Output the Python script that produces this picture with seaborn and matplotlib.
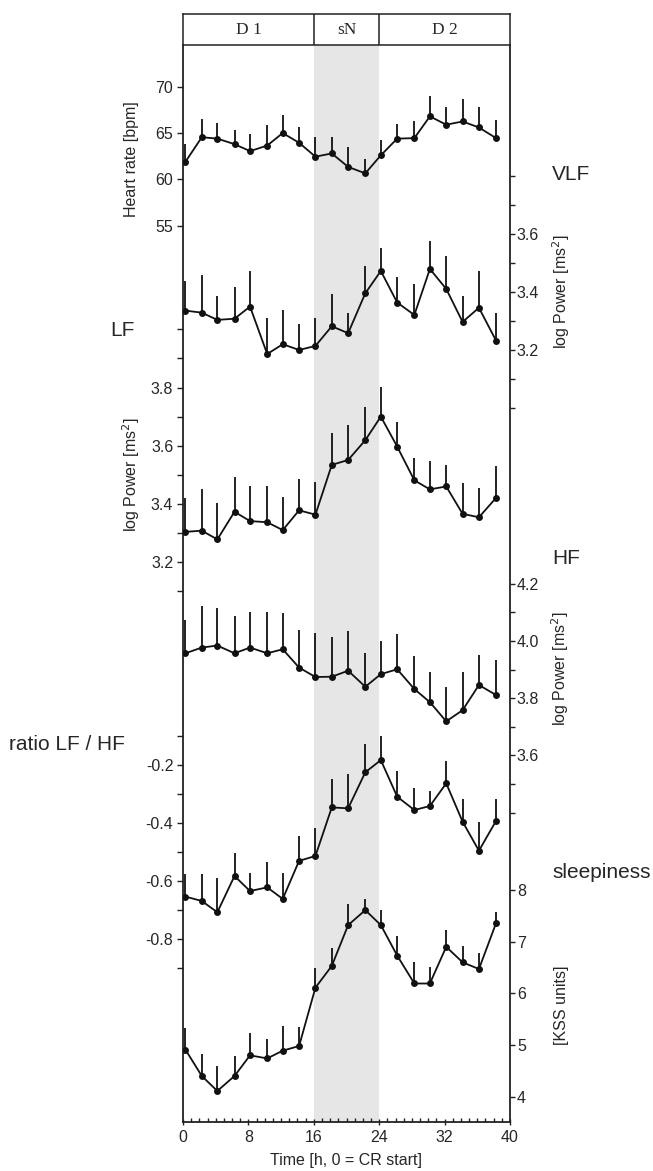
import matplotlib
matplotlib.use('Agg')
import matplotlib.pyplot as plt
import seaborn as sns
import pandas as pd
from matplotlib.ticker import FormatStrFormatter, MultipleLocator

# Data (mean + one-sided SEM), 2-h bins
times = [0.3, 2.3, 4.2, 6.3, 8.2, 10.3, 12.2, 14.2, 16.2, 18.2,
         20.2, 22.3, 24.2, 26.2, 28.3, 30.2, 32.2, 34.2, 36.2, 38.3]

hr = [61.9, 64.55, 64.4, 63.8, 63.05, 63.65, 65.0, 63.95, 62.45, 62.8,
      61.35, 60.65, 62.6, 64.4, 64.45, 66.8, 65.9, 66.25, 65.6, 64.45]
hr_err = [1.97, 1.98, 1.65, 1.58, 1.9, 2.2, 1.94, 1.72, 2.1, 1.75,
          2.15, 1.58, 1.66, 1.61, 1.8, 2.19, 1.89, 2.47, 2.18, 2.01]

vlf = [3.336, 3.329, 3.304, 3.308, 3.35, 3.186, 3.22, 3.20, 3.214, 3.282,
       3.258, 3.396, 3.473, 3.364, 3.321, 3.48, 3.411, 3.297, 3.346, 3.232]
vlf_err = [0.104, 0.130, 0.084, 0.109, 0.122, 0.125, 0.119, 0.089, 0.096, 0.111,
           0.070, 0.095, 0.078, 0.088, 0.106, 0.097, 0.114, 0.091, 0.126, 0.095]

lf = [3.304, 3.308, 3.278, 3.373, 3.341, 3.337, 3.31, 3.378, 3.363, 3.534,
      3.551, 3.619, 3.70, 3.597, 3.481, 3.45, 3.46, 3.366, 3.354, 3.421]
lf_err = [0.117, 0.142, 0.124, 0.118, 0.121, 0.125, 0.114, 0.109, 0.111, 0.109,
          0.12, 0.113, 0.103, 0.086, 0.078, 0.098, 0.074, 0.107, 0.1, 0.109]

hf = [3.957, 3.977, 3.984, 3.957, 3.977, 3.957, 3.971, 3.907, 3.874, 3.875,
      3.896, 3.84, 3.884, 3.901, 3.832, 3.786, 3.719, 3.758, 3.846, 3.811]
hf_err = [0.116, 0.147, 0.131, 0.131, 0.126, 0.145, 0.128, 0.132, 0.153, 0.14,
          0.14, 0.119, 0.116, 0.122, 0.115, 0.105, 0.119, 0.133, 0.105, 0.122]

ratio = [-0.653, -0.668, -0.707, -0.582, -0.634, -0.621, -0.661, -0.53, -0.513, -0.346,
         -0.349, -0.225, -0.183, -0.309, -0.355, -0.341, -0.263, -0.395, -0.495, -0.392]
ratio_err = [0.077, 0.093, 0.117, 0.078, 0.064, 0.086, 0.091, 0.087, 0.095, 0.097,
             0.118, 0.097, 0.083, 0.088, 0.077, 0.053, 0.077, 0.077, 0.1, 0.075]

kss = [4.91, 4.40, 4.11, 4.40, 4.80, 4.74, 4.89, 4.98, 6.11, 6.53,
       7.32, 7.61, 7.32, 6.73, 6.19, 6.19, 6.90, 6.60, 6.47, 7.36]
kss_err = [0.41, 0.43, 0.49, 0.39, 0.44, 0.37, 0.48, 0.37, 0.38, 0.34,
           0.40, 0.21, 0.29, 0.37, 0.41, 0.31, 0.32, 0.32, 0.31, 0.22]

# tick values per panel
hr_ticks = [55, 60, 65, 70]
vlf_ticks = [3.2, 3.4, 3.6]
vlf_minor = [3.0, 3.1, 3.3, 3.5, 3.7, 3.8]
lf_ticks = [3.2, 3.4, 3.6, 3.8]
lf_minor = [3.1, 3.3, 3.5, 3.7, 3.9, 4.0]
hf_ticks = [3.6, 3.8, 4.0, 4.2]
hf_minor = [3.4, 3.5, 3.7, 3.9, 4.1]
ratio_ticks = [-0.8, -0.6, -0.4, -0.2]
ratio_minor = [-0.9, -0.7, -0.5, -0.3, -0.1]
kss_ticks = [4, 5, 6, 7, 8]
x_ticks = [0, 8, 16, 24, 32, 40]

phases = ['D 1', 'sN', 'D 2']
phase_edges = [0, 16, 24, 40]

sns.set_style('ticks')
plt.rcParams['font.family'] = ['Liberation Sans', 'DejaVu Sans']
plt.rcParams['axes.unicode_minus'] = False

W, H = 653, 1171
fig = plt.figure(figsize=(W / 100, H / 100), dpi=100)

# main frame in pixel terms
L, R, B, T = 183, 510, 1122, 45
main = fig.add_axes([L / W, 1 - B / H, (R - L) / W, (B - T) / H])
main.set_xlim(0, 40)
main.set_ylim(0, 1)
main.axvspan(phase_edges[1], phase_edges[2], color='#e6e6e6', lw=0, zorder=0)
for s in ['left', 'right', 'bottom']:
    main.spines[s].set_linewidth(1.3)
    main.spines[s].set_color('#222222')
main.spines['top'].set_visible(False)
main.set_xticks(x_ticks)
main.xaxis.set_minor_locator(MultipleLocator(1))
main.tick_params(axis='x', which='major', direction='inout', length=5, width=1,
                 labelsize=11.5, pad=3, color='#222222')
main.tick_params(axis='x', which='minor', direction='in', length=3, width=1,
                 color='#222222')
main.set_xlabel('Time [h, 0 = CR start]', fontsize=11.5, labelpad=6)

# header boxes
head = fig.add_axes([L / W, 1 - T / H, (R - L) / W, 31 / H])
head.set_xlim(0, 40)
head.set_ylim(0, 1)
head.set_xticks([])
head.set_yticks([])
for s in head.spines.values():
    s.set_linewidth(1.1)
    s.set_color('#222222')
for xe in phase_edges[1:-1]:
    head.axvline(xe, color='#222222', lw=1.1)
for name, a, b in zip(phases, phase_edges[:-1], phase_edges[1:]):
    head.text((a + b) / 2, 0.48, name, ha='center', va='center', fontsize=12.5,
              family=['Liberation Serif', 'DejaVu Serif'])

# panel layout: values, errors, side, ylim, ticks, minor, format, ylabel, label coords
panels = [
    (hr, hr_err, 'left', (-41.7, 74.5), hr_ticks, [], '%d',
     'Heart rate [bpm]', (-0.156, 0.894)),
    (vlf, vlf_err, 'right', (0.532, 4.254), vlf_ticks, vlf_minor, '%.1f',
     r'log Power [ms$^2$]', (1.156, 0.771)),
    (lf, lf_err, 'left', (1.276, 4.977), lf_ticks, lf_minor, '%.1f',
     r'log Power [ms$^2$]', (-0.159, 0.601)),
    (hf, hf_err, 'right', (2.318, 6.084), hf_ticks, hf_minor, '%.1f',
     r'log Power [ms$^2$]', (1.153, 0.421)),
    (ratio, ratio_err, 'left', (-1.429, 2.279), ratio_ticks, ratio_minor, '%.1f',
     None, None),
    (kss, kss_err, 'right', (3.51, 24.35), kss_ticks, [], '%d',
     '[KSS units]', (1.156, 0.108)),
]

for vals, err, side, ylim, ticks, minor, fmt, ylabel, lab in panels:
    ax = main.twinx()
    for s in ax.spines.values():
        s.set_visible(False)
    df = pd.DataFrame({'time': times, 'value': vals})
    ax.errorbar(times, vals, yerr=[[0] * len(err), err], fmt='none',
                ecolor='#111111', elinewidth=1.3, capsize=0, zorder=2)
    sns.lineplot(data=df, x='time', y='value', ax=ax, color='#111111',
                 lw=1.3, marker='o', markersize=5, markeredgewidth=0, zorder=3)
    ax.set_ylim(*ylim)
    ax.set_yticks(ticks)
    ax.set_yticks(minor, minor=True)
    ax.yaxis.set_major_formatter(FormatStrFormatter(fmt))
    if side == 'left':
        ax.yaxis.tick_left()
        ax.yaxis.set_label_position('left')
        ax.tick_params(axis='y', which='both', direction='out', length=4.5, width=1,
                       labelsize=11.5, pad=2.5, color='#222222')
    else:
        ax.yaxis.tick_right()
        ax.yaxis.set_label_position('right')
        ax.tick_params(axis='y', which='both', direction='out', length=3.5, width=1,
                       labelsize=11.5, pad=1.5, color='#222222')
    ax.set_xlabel('')
    if ylabel:
        ax.set_ylabel(ylabel, fontsize=11.5)
        ax.yaxis.set_label_coords(*lab)
        ax.yaxis.label.set_va('center')
        ax.yaxis.label.set_ha('center')
    else:
        ax.set_ylabel('')

# the frame axes carries no y ticks of its own (twinx re-enables them)
main.set_yticks([])
main.tick_params(axis='y', left=False, right=False, labelleft=False, labelright=False)

# panel titles
titles = [('VLF', 552, 175), ('LF', 110, 330), ('HF', 552, 558),
          ('ratio LF / HF', 9, 745), ('sleepiness', 552, 872)]
for txt, px, py in titles:
    fig.text(px / W, 1 - py / H, txt, ha='left', va='center', fontsize=15)

fig.savefig('out.png', dpi=100)
